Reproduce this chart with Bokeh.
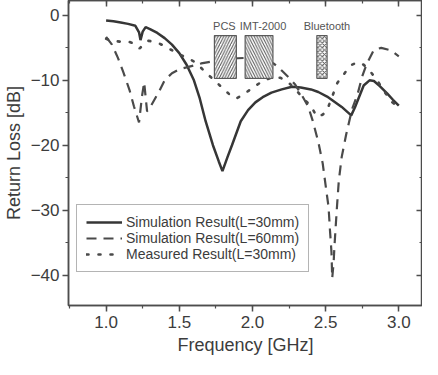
from bokeh.plotting import figure
from bokeh.models import (Range1d, LinearAxis, SingleIntervalTicker, PrintfTickFormatter,
                          CustomJSTickFormatter)
from bokeh.core.properties import value
from bokeh.embed import file_html
from bokeh.resources import INLINE

# ---------------- data ----------------
freq_sim30 = [1.00, 1.05, 1.10, 1.15, 1.20, 1.225, 1.235, 1.25, 1.27, 1.30, 1.35, 1.40, 1.45,
              1.50, 1.55, 1.60, 1.64, 1.68, 1.73, 1.77, 1.795, 1.83, 1.86, 1.92, 1.97, 2.02,
              2.07, 2.13, 2.20, 2.27, 2.33, 2.40, 2.45, 2.51, 2.56, 2.61, 2.65, 2.675, 2.70,
              2.73, 2.76, 2.80, 2.83, 2.87, 2.92, 2.96, 3.00]
rl_sim30 = [-0.8, -0.9, -1.1, -1.3, -1.6, -2.6, -3.8, -2.5, -1.8, -2.1, -2.7, -3.5, -4.5,
            -5.8, -7.6, -10.0, -12.8, -16.3, -20.0, -22.5, -24.0, -21.8, -20.0, -16.3, -14.6, -13.4,
            -12.6, -11.9, -11.4, -11.0, -11.1, -11.4, -11.8, -12.5, -13.3, -14.1, -14.9, -15.4, -14.2,
            -12.5, -10.8, -10.0, -10.1, -10.9, -12.0, -13.0, -13.9]

freq_sim60 = [1.00, 1.04, 1.08, 1.12, 1.16, 1.19, 1.225, 1.245, 1.26, 1.28, 1.30, 1.33, 1.36,
              1.40, 1.45, 1.50, 1.55, 1.60, 1.65, 1.70, 1.75, 1.80, 1.90, 2.00, 2.10, 2.15,
              2.20, 2.25, 2.29, 2.33, 2.38, 2.41, 2.45, 2.48, 2.50, 2.52, 2.53, 2.54, 2.545,
              2.555, 2.56, 2.57, 2.58, 2.59, 2.61, 2.64, 2.68, 2.72, 2.75, 2.78, 2.83, 2.88,
              2.93, 2.97, 3.00]
rl_sim60 = [-3.3, -4.5, -6.5, -8.9, -11.5, -14.0, -16.5, -12.5, -10.3, -14.8, -14.2, -13.0, -11.8,
            -10.0, -8.9, -8.3, -8.0, -7.7, -7.4, -7.2, -7.0, -6.8, -6.6, -6.5, -6.9, -7.5,
            -8.5, -9.6, -10.6, -12.0, -14.0, -16.1, -19.5, -22.8, -26.2, -29.5, -33.2, -36.5, -40.5,
            -38.0, -35.7, -32.1, -28.7, -25.5, -21.8, -18.4, -14.5, -12.0, -9.4, -7.5, -5.3, -5.0,
            -5.3, -5.8, -6.3]

freq_meas30 = [1.00, 1.04, 1.08, 1.12, 1.16, 1.20, 1.23, 1.26, 1.29, 1.33, 1.37, 1.42, 1.46,
               1.50, 1.55, 1.60, 1.65, 1.70, 1.75, 1.80, 1.85, 1.89, 1.93, 1.98, 2.03, 2.08,
               2.13, 2.19, 2.24, 2.29, 2.34, 2.40, 2.44, 2.48, 2.51, 2.54, 2.58, 2.64, 2.68,
               2.72, 2.76, 2.80, 2.85, 2.90, 2.95, 3.00]
rl_meas30 = [-3.6, -3.9, -4.0, -4.1, -4.1, -4.4, -5.1, -4.3, -3.9, -4.1, -4.4, -5.0, -5.5,
             -6.0, -6.5, -7.1, -8.1, -9.2, -10.2, -11.3, -12.3, -12.8, -12.3, -11.5, -10.7, -10.0,
             -9.6, -9.6, -10.2, -11.3, -12.6, -14.0, -15.6, -15.3, -14.6, -12.8, -10.4, -8.6, -7.6,
             -7.2, -7.6, -8.5, -9.9, -11.7, -13.3, -14.2]

series_labels = ["Simulation Result(L=30mm)", "Simulation Result(L=60mm)", "Measured Result(L=30mm)"]

band_names = ["PCS", "IMT-2000", "Bluetooth"]
band_lo = [1.74, 1.95, 2.44]
band_hi = [1.89, 2.14, 2.51]
box_top = -3.1
box_bottom = -9.7

# ---------------- figure ----------------
FONT = "Liberation Sans"
AX = "#4d4d4d"
TXT = "#3c3c3c"

p = figure(width=422, height=359, output_backend="svg", toolbar_location=None,
           x_range=Range1d(0.743, 3.162), y_range=Range1d(-44.7, 2.3),
           x_axis_label="Frequency [GHz]", y_axis_label="Return Loss [dB]",
           min_border_left=63, min_border_right=0, min_border_top=0, min_border_bottom=54)
p.xgrid.visible = False
p.ygrid.visible = False
p.outline_line_color = AX
p.outline_line_width = 1.5
p.background_fill_color = "white"
p.border_fill_color = "white"

p.xaxis.ticker = SingleIntervalTicker(interval=0.5, num_minor_ticks=2)
p.yaxis.ticker = SingleIntervalTicker(interval=10, num_minor_ticks=2)
p.xaxis.formatter = PrintfTickFormatter(format="%.1f")

for ax in (p.xaxis[0], p.yaxis[0]):
    ax.axis_line_color = AX
    ax.axis_line_width = 1.5
    ax.major_tick_line_color = AX
    ax.minor_tick_line_color = AX
    ax.major_tick_line_width = 1.5
    ax.minor_tick_line_width = 1.2
    ax.major_tick_out = 6
    ax.major_tick_in = 0
    ax.minor_tick_out = 3
    ax.minor_tick_in = 0
    ax.major_label_text_font = FONT
    ax.major_label_text_font_size = "17px"
    ax.major_label_text_color = TXT
    ax.axis_label_text_font = FONT
    ax.axis_label_text_font_size = "18px"
    ax.axis_label_text_font_style = "normal"
    ax.axis_label_text_color = TXT
p.xaxis.major_label_standoff = 4
p.xaxis.axis_label_standoff = 4
p.yaxis.major_label_standoff = 3
p.yaxis.axis_label_standoff = 4

blank = CustomJSTickFormatter(code="return ''")
for loc, iv in (("above", 0.5), ("right", 10)):
    a = LinearAxis(ticker=SingleIntervalTicker(interval=iv, num_minor_ticks=2),
                   formatter=blank, major_tick_in=6, major_tick_out=0,
                   minor_tick_in=3, minor_tick_out=0, major_label_standoff=0,
                   axis_line_color=AX, axis_line_width=1.5,
                   major_tick_line_color=AX, minor_tick_line_color=AX,
                   major_tick_line_width=1.5, minor_tick_line_width=1.2)
    p.add_layout(a, loc)

# ---------------- curves ----------------
p.line(freq_sim30, rl_sim30, line_color="#363636", line_width=2.5, legend_label=series_labels[0])
p.line(freq_sim60, rl_sim60, line_color="#4a4a4a", line_width=2.2, line_dash="10 7",
       legend_label=series_labels[1])
p.line(freq_meas30, rl_meas30, line_color="#4a4a4a", line_width=2.6, line_dash="2 10",
       line_cap="round", legend_label=series_labels[2])

# ---------------- band boxes ----------------
hatches = ["/", "\\", "x"]
scales = [5.5, 5.5, 4.5]
for lo, hi, h, s in zip(band_lo, band_hi, hatches, scales):
    p.quad(left=[lo], right=[hi], bottom=[box_bottom], top=[box_top],
           fill_color="white", line_color="#5a5a5a", line_width=1.2,
           hatch_pattern=h, hatch_color="#555555", hatch_weight=1.0, hatch_scale=s)

label_dx = [-1, 4, 5]
centers = [(a + b) / 2 for a, b in zip(band_lo, band_hi)]
for cx, name, dx in zip(centers, band_names, label_dx):
    p.text(x=[cx], y=[box_top], text=[name],
           text_font=value(FONT), text_font_size="11px", text_color="#555555",
           text_align="center", text_baseline="bottom", x_offset=dx, y_offset=-4)

# ---------------- legend ----------------
lg = p.legend[0]
lg.location = (8, 33)
lg.label_text_font = FONT
lg.label_text_font_size = "14px"
lg.label_text_color = TXT
lg.border_line_color = "#6a6a6a"
lg.border_line_width = 1.2
lg.background_fill_alpha = 1.0
lg.padding = 9
lg.margin = 0
lg.spacing = 0
lg.glyph_width = 36
lg.glyph_height = 14
lg.label_height = 14
lg.label_standoff = 4

open("out.html", "w").write(file_html(p, INLINE))
